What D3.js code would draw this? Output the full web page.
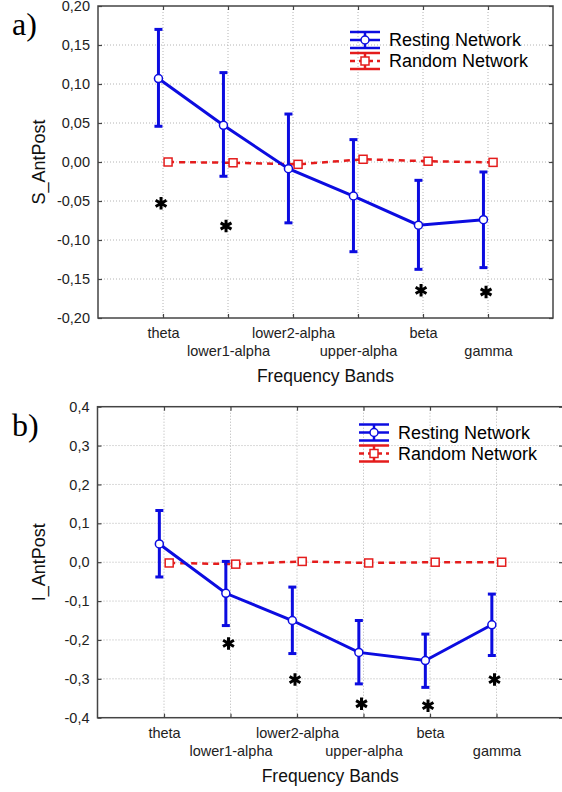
<!DOCTYPE html>
<html>
<head>
<meta charset="utf-8">
<script src="https://cdn.jsdelivr.net/npm/d3@7"></script>
<style>
  body { margin: 0; background: #fff; }
  svg { display: block; background: #fff; }
</style>
</head>
<body>
<svg id="chart" width="562" height="792"></svg>
<script>
var bands = ["theta", "lower1-alpha", "lower2-alpha", "upper-alpha", "beta", "gamma"];
var seriesNames = ["Resting Network", "Random Network"];
var xTitle = "Frequency Bands";

// panel a) S_AntPost
var sTicks = [-0.20, -0.15, -0.10, -0.05, 0.00, 0.05, 0.10, 0.15, 0.20];
var sResting = [0.107, 0.047, -0.0085, -0.0436, -0.081, -0.074];
var sRestingHi = [0.170, 0.1146, 0.0615, 0.0287, -0.0235, -0.0128];
var sRestingLo = [0.0458, -0.0183, -0.078, -0.115, -0.1376, -0.1354];
var sRandom = [0.000, -0.001, -0.003, 0.0035, 0.001, -0.0005];
var sStars = [-0.053, -0.082, null, null, -0.1645, -0.1667];

// panel b) I_AntPost
var iTicks = [-0.4, -0.3, -0.2, -0.1, 0.0, 0.1, 0.2, 0.3, 0.4];
var iResting = [0.047, -0.080, -0.150, -0.232, -0.253, -0.161];
var iRestingHi = [0.133, 0.002, -0.064, -0.150, -0.185, -0.082];
var iRestingLo = [-0.038, -0.163, -0.235, -0.313, -0.322, -0.240];
var iRandom = [-0.002, -0.005, 0.002, -0.002, 0.000, 0.000];
var iStars = [null, -0.209, -0.302, -0.364, -0.369, -0.302];

var BLUE = "#0c0ce0", RED = "#e41c1c";
var FONT = "'Liberation Sans', Arial, sans-serif";

var locale = d3.formatLocale({decimal: ",", thousands: ".", grouping: [3], currency: ["", ""], minus: "-"});

var svg = d3.select("#chart");

function drawPanel(cfg) {
  var x = d3.scaleLinear().domain([0, bands.length + 1]).range([cfg.left, cfg.right]);
  var y = d3.scaleLinear().domain([cfg.ticks[0], cfg.ticks[cfg.ticks.length - 1]]).range([cfg.bottom, cfg.top]);
  var cats = d3.range(1, bands.length + 1);
  var g = svg.append("g");

  // grid
  g.selectAll(".hgrid").data(cfg.ticks.slice(1, -1)).enter().append("line")
    .attr("x1", cfg.left).attr("x2", cfg.right)
    .attr("y1", function (d) { return y(d); }).attr("y2", function (d) { return y(d); })
    .attr("stroke", "#b4b4b4").attr("stroke-width", 1).attr("stroke-dasharray", "1,2");
  g.selectAll(".vgrid").data(cats).enter().append("line")
    .attr("x1", function (d) { return x(d); }).attr("x2", function (d) { return x(d); })
    .attr("y1", cfg.top).attr("y2", cfg.bottom)
    .attr("stroke", "#b4b4b4").attr("stroke-width", 1).attr("stroke-dasharray", "1,2");

  // axes
  var fmt = locale.format(cfg.fmt);
  var ay = g.append("g").attr("transform", "translate(" + cfg.left + ",0)")
    .call(d3.axisLeft(y).tickValues(cfg.ticks).tickFormat(fmt).tickSizeInner(-4).tickSizeOuter(0).tickPadding(8));
  var ax = g.append("g").attr("transform", "translate(0," + cfg.bottom + ")")
    .call(d3.axisBottom(x).tickValues(cats).tickFormat(function (d) { return bands[d - 1]; })
      .tickSizeInner(-4).tickSizeOuter(0));
  g.append("g").attr("transform", "translate(" + cfg.right + ",0)")
    .call(d3.axisRight(y).tickValues(cfg.ticks).tickFormat("").tickSizeInner(-4).tickSizeOuter(0));
  g.append("g").attr("transform", "translate(0," + cfg.top + ")")
    .call(d3.axisTop(x).tickValues(cats).tickFormat("").tickSizeInner(-4).tickSizeOuter(0));
  g.selectAll(".domain").remove();
  g.selectAll(".tick line").attr("stroke", "#444").attr("stroke-width", 1.2);
  [ay, ax].forEach(function (a) {
    a.attr("font-family", FONT).attr("font-size", 14.5);
    a.selectAll("text").attr("fill", "#222");
  });
  ax.selectAll("text").attr("dy", 0)
    .attr("y", function (d) { return d % 2 === 1 ? 20 : 38; });

  // frame
  g.append("rect").attr("x", cfg.left).attr("y", cfg.top)
    .attr("width", cfg.right - cfg.left).attr("height", cfg.bottom - cfg.top)
    .attr("fill", "none").attr("stroke", "#444").attr("stroke-width", 1.5);

  // titles
  g.append("text").attr("x", (cfg.left + cfg.right) / 2).attr("y", cfg.bottom + 64)
    .attr("text-anchor", "middle").attr("font-family", FONT).attr("font-size", 17.5)
    .attr("fill", "#111").text(xTitle);
  g.append("text")
    .attr("transform", "translate(45," + (cfg.top + cfg.bottom) / 2 + ") rotate(-90)")
    .attr("text-anchor", "middle").attr("font-family", FONT).attr("font-size", 18)
    .attr("fill", "#111").text(cfg.yTitle);
  g.append("text").attr("x", 12).attr("y", cfg.top + 29)
    .attr("font-family", "'Liberation Serif', 'Times New Roman', serif").attr("font-size", 32)
    .attr("fill", "#000").text(cfg.label);

  // random network
  var offR = 0.078, offB = -0.07;
  var lineR = d3.line().x(function (d, i) { return x(i + 1 + offR); }).y(function (d) { return y(d); });
  g.append("path").attr("d", lineR(cfg.random)).attr("fill", "none")
    .attr("stroke", RED).attr("stroke-width", 2.5).attr("stroke-dasharray", "6,5");
  g.selectAll(".sq").data(cfg.random).enter().append("rect")
    .attr("x", function (d, i) { return x(i + 1 + offR) - 4; })
    .attr("y", function (d) { return y(d) - 4; })
    .attr("width", 8).attr("height", 8)
    .attr("fill", "#fff").attr("stroke", RED).attr("stroke-width", 1.5);

  // resting network
  var lineB = d3.line().x(function (d, i) { return x(i + 1 + offB); }).y(function (d) { return y(d); });
  g.append("path").attr("d", lineB(cfg.resting)).attr("fill", "none")
    .attr("stroke", BLUE).attr("stroke-width", 3);
  var eb = g.selectAll(".eb").data(cfg.resting).enter().append("g");
  eb.append("line")
    .attr("x1", function (d, i) { return x(i + 1 + offB); })
    .attr("x2", function (d, i) { return x(i + 1 + offB); })
    .attr("y1", function (d, i) { return y(cfg.hi[i]); })
    .attr("y2", function (d, i) { return y(cfg.lo[i]); })
    .attr("stroke", BLUE).attr("stroke-width", 3);
  [cfg.hi, cfg.lo].forEach(function (arr) {
    eb.append("line")
      .attr("x1", function (d, i) { return x(i + 1 + offB) - 4; })
      .attr("x2", function (d, i) { return x(i + 1 + offB) + 4; })
      .attr("y1", function (d, i) { return y(arr[i]); })
      .attr("y2", function (d, i) { return y(arr[i]); })
      .attr("stroke", BLUE).attr("stroke-width", 3);
  });
  g.selectAll(".pt").data(cfg.resting).enter().append("circle")
    .attr("cx", function (d, i) { return x(i + 1 + offB); })
    .attr("cy", function (d) { return y(d); })
    .attr("r", 4).attr("fill", "#fff").attr("stroke", BLUE).attr("stroke-width", 1.5);

  // significance stars
  var star = d3.symbol().type(d3.symbolAsterisk).size(110);
  cfg.stars.forEach(function (v, i) {
    if (v === null) return;
    g.append("path").attr("d", star())
      .attr("transform", "translate(" + x(i + 1 - 0.03) + "," + y(v) + ")")
      .attr("fill", "none").attr("stroke", "#000").attr("stroke-width", 3);
  });

  // legend
  var lx = cfg.legendX, ly = cfg.legendY, w = 30;
  var leg = g.append("g");
  [[BLUE, null], [RED, "5,4"]].forEach(function (s, k) {
    var cy = ly + k * 21;
    [-8, 8].forEach(function (dy) {
      leg.append("line").attr("x1", lx).attr("x2", lx + w).attr("y1", cy + dy).attr("y2", cy + dy)
        .attr("stroke", s[0]).attr("stroke-width", 2.5);
    });
    leg.append("line").attr("x1", lx + w / 2).attr("x2", lx + w / 2).attr("y1", cy - 8).attr("y2", cy + 8)
      .attr("stroke", s[0]).attr("stroke-width", 2.5);
    leg.append("line").attr("x1", lx).attr("x2", lx + w).attr("y1", cy).attr("y2", cy)
      .attr("stroke", s[0]).attr("stroke-width", 2.5).attr("stroke-dasharray", s[1]);
    if (k === 0) {
      leg.append("circle").attr("cx", lx + w / 2).attr("cy", cy).attr("r", 4)
        .attr("fill", "#fff").attr("stroke", s[0]).attr("stroke-width", 1.5);
    } else {
      leg.append("rect").attr("x", lx + w / 2 - 4).attr("y", cy - 4).attr("width", 8).attr("height", 8)
        .attr("fill", "#fff").attr("stroke", s[0]).attr("stroke-width", 1.5);
    }
    leg.append("text").attr("x", lx + w + 9).attr("y", cy).attr("dy", "0.35em")
      .attr("font-family", FONT).attr("font-size", 18).attr("fill", "#000").text(seriesNames[k]);
  });
}

drawPanel({
  label: "a)", yTitle: "S_AntPost", fmt: ".2f",
  left: 98, right: 553, top: 6, bottom: 318, ticks: sTicks,
  resting: sResting, hi: sRestingHi, lo: sRestingLo, random: sRandom, stars: sStars,
  legendX: 350, legendY: 40
});

drawPanel({
  label: "b)", yTitle: "I_AntPost", fmt: ".1f",
  left: 97.5, right: 563, top: 406.7, bottom: 717.7, ticks: iTicks,
  resting: iResting, hi: iRestingHi, lo: iRestingLo, random: iRandom, stars: iStars,
  legendX: 359, legendY: 432.5
});
</script>
</body>
</html>
